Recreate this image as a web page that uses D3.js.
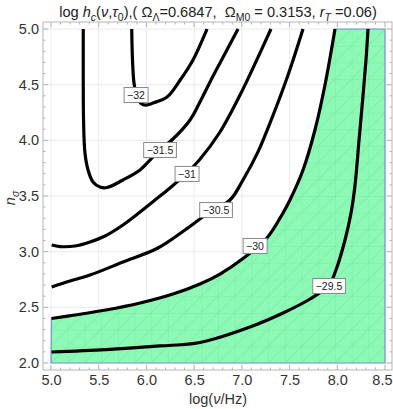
<!DOCTYPE html>
<html><head><meta charset="utf-8">
<script src="https://cdn.jsdelivr.net/npm/d3@7"></script>
<style>body{margin:0;background:#fff}svg{display:block;font-family:"Liberation Sans",Arial,sans-serif}</style>
</head><body><svg id="c" width="393" height="409"></svg>
<script>
// ---- data (log nu/Hz, n_sigma) ----
const xTicks = [5.0, 5.5, 6.0, 6.5, 7.0, 7.5, 8.0, 8.5];
const yTicks = [2.0, 2.5, 3.0, 3.5, 4.0, 4.5, 5.0];
const levels = ["\u221232", "\u221231.5", "\u221231", "\u221230.5", "\u221230", "\u221229.5"];
const c32 = [[5.846,5.0],[5.854,4.722],[5.870,4.513],[5.901,4.388],[5.943,4.331],[5.995,4.317],[6.069,4.335],[6.216,4.389],[6.352,4.540],[6.488,4.722],[6.635,5.0]];
const c315 = [[5.338,5.0],[5.338,4.542],[5.341,4.183],[5.356,3.886],[5.388,3.735],[5.440,3.626],[5.513,3.581],[5.587,3.576],[5.754,3.644],[5.933,3.734],[6.037,3.823],[6.142,3.913],[6.278,4.012],[6.457,4.183],[6.561,4.344],[6.677,4.542],[6.771,4.695],[6.960,5.0]];
const c31 = [[5.007,3.060],[5.094,3.046],[5.251,3.051],[5.409,3.087],[5.566,3.141],[5.754,3.240],[5.933,3.356],[6.090,3.464],[6.247,3.572],[6.425,3.707],[6.561,3.830],[6.771,4.075],[6.981,4.407],[7.170,4.748],[7.305,5.0]];
const c305 = [[5.007,2.683],[5.199,2.737],[5.409,2.790],[5.754,2.907],[6.121,3.033],[6.404,3.195],[6.635,3.338],[6.876,3.464],[7.012,3.644],[7.169,3.896],[7.316,4.201],[7.484,4.587],[7.641,5.0]];
const c30 = [[5.005,2.400],[5.251,2.431],[5.576,2.476],[5.933,2.539],[6.278,2.620],[6.561,2.710],[6.771,2.799],[7.033,2.952],[7.263,3.123],[7.431,3.347],[7.504,3.464],[7.641,3.734],[7.766,4.093],[7.871,4.497],[7.976,5.0]];
const c295 = [[5.005,2.099],[5.576,2.121],[6.142,2.153],[6.561,2.184],[7.085,2.323],[7.431,2.449],[7.714,2.575],[7.913,2.701],[7.986,2.835],[8.081,3.105],[8.144,3.347],[8.186,3.599],[8.228,4.003],[8.270,4.407],[8.301,4.722],[8.322,5.0]];
const contours = [c32, c315, c31, c305, c30, c295];
const labelPos = [[5.891,4.407],[6.142,3.913],[6.425,3.698],[6.729,3.374],[7.138,3.051],[7.913,2.692]];

// ---- layout ----
const svg = d3.select("#c");
const x = d3.scaleLinear().domain([5, 8.5]).range([51, 385]);
const y = d3.scaleLinear().domain([2, 5]).range([363, 29]);
const F = {l: 43, r: 392, t: 22, b: 370};

// pattern for mesh
const defs = svg.append("defs");
const pat = defs.append("pattern").attr("id","mesh").attr("patternUnits","userSpaceOnUse")
  .attr("width",16.7).attr("height",16.7).attr("x",51).attr("y",29);
pat.append("rect").attr("width",16.7).attr("height",16.7).attr("fill","#8ef9b6");
pat.append("path").attr("d","M0,0H16.7M0,0V16.7M0,16.7L16.7,0").attr("stroke","#76eca0").attr("stroke-width",0.9).attr("fill","none");

// grid
const g = svg.append("g");
g.selectAll(".gx").data(xTicks).join("line").attr("x1",d=>x(d)).attr("x2",d=>x(d)).attr("y1",F.t).attr("y2",F.b).attr("stroke","#ebebeb").attr("stroke-width",1);
g.selectAll(".gy").data(yTicks).join("line").attr("y1",d=>y(d)).attr("y2",d=>y(d)).attr("x1",F.l).attr("x2",F.r).attr("stroke","#ebebeb").attr("stroke-width",1);

// green region: n below the -30 contour
const line = d3.line().x(d=>x(d[0])).y(d=>y(d[1])).curve(d3.curveCatmullRom.alpha(0.5));
const regPath = line(c30)
  + [[8.5,5.0],[8.5,2.0],[5.0,2.0]].map(p=>"L"+x(p[0])+","+y(p[1])).join("") + "Z";
svg.append("path").attr("d",regPath).attr("fill","url(#mesh)").attr("stroke","#7b8fd2").attr("stroke-width",1.2);

// contours
svg.append("g").selectAll("path").data(contours).join("path")
  .attr("d",line).attr("fill","none").attr("stroke","#000").attr("stroke-width",3.2).attr("stroke-linecap","butt");

// labels
const lg = svg.append("g").selectAll("g").data(levels).join("g")
  .attr("transform",(d,i)=>`translate(${x(labelPos[i][0])},${y(labelPos[i][1])})`);
lg.append("text").text(d=>d).attr("text-anchor","middle").attr("dy","0.35em").attr("font-size",10.5).attr("fill","#222")
  .each(function(){ const b=this.getBBox(); d3.select(this.parentNode).insert("rect","text")
     .attr("x",b.x-3).attr("y",-7.5).attr("width",b.width+6).attr("height",15).attr("fill","#fff").attr("stroke","#8a8a8a").attr("stroke-width",1);});

// frame
svg.append("rect").attr("x",F.l).attr("y",F.t).attr("width",F.r-F.l).attr("height",F.b-F.t).attr("fill","none").attr("stroke","#b5b5b5").attr("stroke-width",1);

// ticks
const minorX = d3.range(50, 86).map(i=>i/10).filter(v=>!xTicks.some(t=>Math.abs(t-v)<1e-6));
const minorY = d3.range(20, 51).map(i=>i/10).filter(v=>!yTicks.some(t=>Math.abs(t-v)<1e-6));
const tk = svg.append("g").attr("stroke","#b5b5b5").attr("stroke-width",1);
[[xTicks,5],[minorX,2.5]].forEach(([arr,len])=>{
  tk.selectAll(null).data(arr).join("line").attr("x1",d=>x(d)).attr("x2",d=>x(d)).attr("y1",F.b).attr("y2",F.b-len);
  tk.selectAll(null).data(arr).join("line").attr("x1",d=>x(d)).attr("x2",d=>x(d)).attr("y1",F.t).attr("y2",F.t+len);
});
[[yTicks,5],[minorY,2.5]].forEach(([arr,len])=>{
  tk.selectAll(null).data(arr).join("line").attr("y1",d=>y(d)).attr("y2",d=>y(d)).attr("x1",F.l).attr("x2",F.l+len);
  tk.selectAll(null).data(arr).join("line").attr("y1",d=>y(d)).attr("y2",d=>y(d)).attr("x1",F.r).attr("x2",F.r-len);
});

// tick labels via d3 axes
const fmt = d3.format(".1f");
const ax = svg.append("g").attr("transform",`translate(0,${F.b})`)
  .call(d3.axisBottom(x).tickValues(xTicks).tickFormat(fmt).tickSize(0).tickPadding(5));
const ay = svg.append("g").attr("transform",`translate(${F.l},0)`)
  .call(d3.axisLeft(y).tickValues(yTicks).tickFormat(fmt).tickSize(0).tickPadding(4));
[ax,ay].forEach(a=>{a.select(".domain").remove(); a.selectAll("text").attr("font-size",14.5).attr("fill","#333").attr("font-family","Liberation Sans, Arial, sans-serif");});
// keep the last x label inside the picture
ax.selectAll(".tick").filter(d=>d===8.5).select("text").attr("text-anchor","end").attr("x",7);

// rich text helper
function rich(sel, segs){
  let shift=0;
  segs.forEach(s=>{
    const want = s.sub?3.5:0;
    const ts = sel.append("tspan").text(s.t);
    if(want!==shift){ ts.attr("dy", want-shift); shift=want; }
    if(s.it) ts.attr("font-style","italic");
    if(s.sub) ts.attr("font-size", s.fs||"0.72em");
  });
}
const title = svg.append("text").attr("x",218).attr("y",17).attr("text-anchor","middle").attr("font-size",14.6).attr("fill","#222").style("white-space","pre");
rich(title,[{t:"log "},{t:"h",it:1},{t:"c",sub:1,it:1},{t:"("},{t:"\u03bd",it:1},{t:","},{t:"\u03c4",it:1},{t:"0",sub:1},
  {t:"),( \u03a9"},{t:"\u039b",sub:1},{t:"=0.6847,  \u03a9"},{t:"M0",sub:1},{t:" = 0.3153, "},{t:"r",it:1},{t:"T",sub:1,it:1},{t:" =0.06)"}]);

const xl = svg.append("text").attr("x",218).attr("y",404).attr("text-anchor","middle").attr("font-size",14.5).attr("fill","#333");
rich(xl,[{t:"log("},{t:"\u03bd",it:1},{t:"/Hz)"}]);
const yl = svg.append("text").attr("transform","translate(15,198) rotate(-90)").attr("text-anchor","middle").attr("font-size",14.5).attr("fill","#333");
rich(yl,[{t:"n",it:1},{t:"\u03c3",sub:1,it:1}]);
</script></body></html>
